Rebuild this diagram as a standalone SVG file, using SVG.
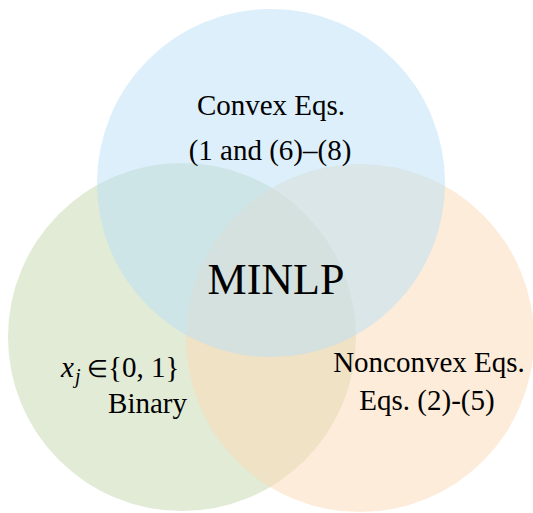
<svg xmlns="http://www.w3.org/2000/svg" width="533" height="513" viewBox="0 0 533 513">
<style>
  .c { fill-opacity: 0.5; stroke: none; }
  .t { font-family: "Liberation Serif", "Times New Roman", serif; font-size: 29px; fill: #000; }
  .m { font-family: "Liberation Serif", "Times New Roman", serif; font-size: 44px; fill: #000; }
</style>
<rect width="533" height="513" fill="#ffffff"/>
<g id="binary">
  <circle class="c" cx="182" cy="337" r="174" fill="#c5d7ad"/>
</g>
<g id="nonconvex">
  <circle class="c" cx="360" cy="338" r="174" fill="#fbd9b3"/>
</g>
<g id="convex">
  <circle class="c" cx="271" cy="183" r="174" fill="#b9dff7"/>
</g>
<g id="connectors"></g>
<g id="labels">
  <text class="t" x="271" y="115" text-anchor="middle">Convex Eqs.</text>
  <text class="t" x="270" y="160" text-anchor="middle">(1 and (6)–(8)</text>
  <text class="m" x="276" y="294" text-anchor="middle">MINLP</text>
  <text class="t" y="377"><tspan x="61" font-style="italic">x</tspan><tspan x="75" y="383" font-size="20" font-style="italic">j</tspan><tspan x="87" y="377" font-size="24">∈</tspan><tspan x="108">{0, 1}</tspan></text>
  <text class="t" x="187" y="413" text-anchor="end">Binary</text>
  <text class="t" x="429" y="372" text-anchor="middle">Nonconvex Eqs.</text>
  <text class="t" x="427" y="410" text-anchor="middle">Eqs. (2)-(5)</text>
</g>
</svg>
